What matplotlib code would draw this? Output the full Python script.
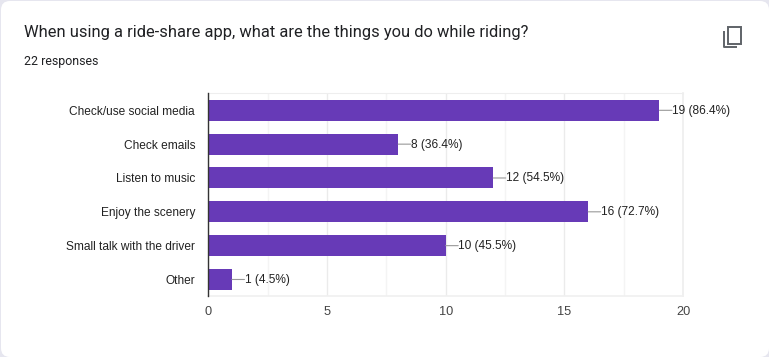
import matplotlib.pyplot as plt
from matplotlib.patches import FancyBboxPatch, Rectangle

categories = ["Check/use social media", "Check emails", "Listen to music",
              "Enjoy the scenery", "Small talk with the driver", "Other"]
counts = [19, 8, 12, 16, 10, 1]
percents = ["86.4%", "36.4%", "54.5%", "72.7%", "45.5%", "4.5%"]
xticks = [0, 5, 10, 15, 20]
minor_xticks = [2.5, 7.5, 12.5, 17.5]

W, H = 769, 357
BAR = "#673ab7"

plt.rcParams['font.family'] = ['Liberation Sans', 'DejaVu Sans']

fig = plt.figure(figsize=(W / 100, H / 100), dpi=100, facecolor="#e6e6ef")

# card behind everything, pixel coords
bg = fig.add_axes([0, 0, 1, 1])
bg.set_xlim(0, W)
bg.set_ylim(H, 0)
bg.axis("off")
bg.add_patch(FancyBboxPatch((1, 1), W - 1, H - 1, boxstyle="round,pad=0,rounding_size=9",
                            fc="white", ec="none"))
bg.text(24, 33, "When using a ride-share app, what are the things you do while riding?",
        family="Roboto", fontsize=11.93, color="#202124", va="center", ha="left")
bg.text(24.5, 62, "22 responses", family="Roboto", fontsize=8.95, color="#202124",
        va="center", ha="left")

# copy icon
bg.add_patch(Rectangle((727.5, 27), 13, 17, fc="none", ec="#5f6368", lw=1.4))
bg.plot([724, 724, 737], [30.5, 47, 47], color="#5f6368", lw=1.4, solid_capstyle="butt")

# plot area 208.2..683.2 x 93.4..296.4 px
ax = fig.add_axes([208.2 / W, 1 - 296.4 / H, 475 / W, 203 / H])
ax.patch.set_alpha(0)
y = list(range(len(categories)))
ax.barh(y, counts, height=0.62, color=BAR, zorder=3)
ax.set_xlim(0, 20)
ax.set_ylim(len(categories) - 0.5, -0.5)

ax.set_xticks(xticks)
ax.set_xticks(minor_xticks, minor=True)
ax.set_yticks(y, categories)
ax.tick_params(axis="both", which="both", length=0)
ax.tick_params(axis="x", labelsize=9.2, labelcolor="#444444", pad=7)
ax.tick_params(axis="y", labelsize=8.6, labelcolor="#222222", pad=9.5)
ax.grid(axis="x", which="major", color="#ebebeb", lw=1, zorder=0)
ax.grid(axis="x", which="minor", color="#f4f4f4", lw=1, zorder=0)
ax.set_axisbelow(True)

for s in ["top", "right"]:
    ax.spines[s].set_color("#eeeeee")
ax.spines["right"].set_linewidth(1.2)
ax.spines["top"].set_linewidth(0.8)
ax.spines["bottom"].set_color("#f0f0f0")
ax.spines["bottom"].set_linewidth(1.2)
ax.spines["left"].set_color("#333333")
ax.spines["left"].set_linewidth(1)
ax.spines["left"].set_zorder(5)

for yi, c, p in zip(y, counts, percents):
    # leader line and label are separate so the line stays level
    ax.annotate("", xy=(c, yi), xytext=(9, 0), textcoords="offset points",
                arrowprops=dict(arrowstyle="-", color="#999999", lw=0.8,
                                shrinkA=0, shrinkB=0))
    ax.annotate(f"{c} ({p})", xy=(c, yi), xytext=(9.1, -0.3), textcoords="offset points",
                va="center", ha="left", fontsize=8.6, color="#222222")

fig.savefig("out.png", dpi=100, facecolor=fig.get_facecolor())
